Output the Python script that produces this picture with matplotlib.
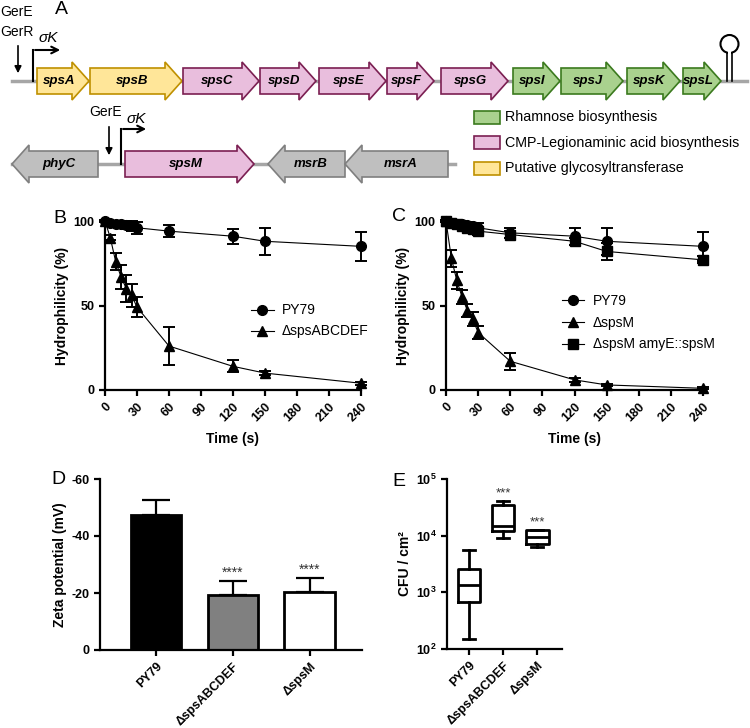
import matplotlib
matplotlib.use('Agg')
import matplotlib.pyplot as plt
from matplotlib.patches import Polygon, Rectangle, Circle
from matplotlib.lines import Line2D
import numpy as np

plt.rcParams['font.family'] = ['Liberation Sans', 'DejaVu Sans']
plt.rcParams['mathtext.fontset'] = 'custom'
plt.rcParams['mathtext.rm'] = 'Liberation Sans'
plt.rcParams['mathtext.bf'] = 'Liberation Sans:bold'
plt.rcParams['axes.unicode_minus'] = False

# ---- panel A : operon map (gene coordinates in map units) ----
op1_names = ['spsA', 'spsB', 'spsC', 'spsD', 'spsE', 'spsF', 'spsG', 'spsI', 'spsJ', 'spsK', 'spsL']
op1_tail = [37, 90, 183, 260, 319, 387, 441, 513, 561, 627, 683]
op1_tip = [89, 182, 259, 316, 386, 434, 508, 560, 623, 680, 721]
op1_group = ['gt', 'gt', 'cmp', 'cmp', 'cmp', 'cmp', 'cmp', 'rha', 'rha', 'rha', 'rha']

op2_names = ['phyC', 'spsM', 'msrB', 'msrA']
op2_tail = [98, 125, 345, 448]
op2_tip = [12, 254, 268, 345]
op2_group = ['other', 'cmp', 'other', 'other']

legend_groups = ['rha', 'cmp', 'gt']
legend_labels = ['Rhamnose biosynthesis', 'CMP-Legionaminic acid biosynthesis',
                 'Putative glycosyltransferase']

# ---- panels B, C : hydrophilicity ----
time_s = [0, 5, 10, 15, 20, 25, 30, 60, 120, 150, 240]
b_py79 = [100, 99, 98.5, 98, 97.5, 97, 96, 94, 91, 88, 85]
b_py79_err = [0.5, 1, 1.5, 2, 2.5, 3, 3.5, 3.5, 4.5, 8, 8.5]
b_abcdef = [100, 90, 76, 67, 60, 56, 49, 26, 14, 10, 4]
b_abcdef_err = [0, 1.5, 5, 7, 8, 7, 6, 11, 3.5, 1, 1]

c_py79 = [100, 99, 98.5, 98, 97.5, 97, 96, 93, 91, 88, 85]
c_py79_err = [0.5, 1, 1, 1.5, 2, 2, 3, 3, 5, 8, 8.5]
c_spsM = [100, 78, 65, 55, 47, 42, 34, 17, 6, 3, 1]
c_spsM_err = [0, 5, 5, 4, 4, 4, 4, 5, 1, 0.5, 0.5]
c_comp = [100, 99, 98, 97, 96, 95, 94, 92, 88, 82, 77]
c_comp_err = [0.5, 1, 1, 1.5, 2, 2, 2.5, 2, 2, 5, 2]

# ---- panel D : zeta potential ----
strains = ['PY79', '\u0394spsABCDEF', '\u0394spsM']
zeta_mean = [-47.4, -19.3, -20.5]
zeta_sd = [5.2, 4.9, 4.7]
zeta_sig = ['', '****', '****']

# ---- panel E : CFU / cm2 box plot ----
cfu_whislo = [151, 9100, 6300]
cfu_q1 = [667, 11900, 7230]
cfu_med = [1370, 14600, 9330]
cfu_q3 = [2620, 35200, 12800]
cfu_whishi = [5660, 41400, 12800]
cfu_sig = ['', '***', '***']

fills = {'gt': '#FFE699', 'cmp': '#E9BEDD', 'rha': '#A9D18E', 'other': '#BFBFBF'}
edges = {'gt': '#BF9000', 'cmp': '#7B1F52', 'rha': '#3B7A1E', 'other': '#7F7F7F'}

W, H = 750, 728
fig = plt.figure(figsize=(7.5, 7.28), dpi=100)


def fx(px):
    return px / W


def fy(py):
    return 1 - py / H


# ================= A =================
topH = 190
axA = fig.add_axes([0, fy(topH), 1, topH / H])
axA.set_xlim(0, W)
axA.set_ylim(topH, 0)
axA.axis('off')

BODY, HEAD, HLEN = 13, 19, 17


def gene(ax, tail, tip, yc, fc, ec):
    d = 1 if tip > tail else -1
    hb = tip - d * HLEN
    pts = [(tail, yc - BODY), (hb, yc - BODY), (hb, yc - HEAD), (tip, yc),
           (hb, yc + HEAD), (hb, yc + BODY), (tail, yc + BODY)]
    ax.add_patch(Polygon(pts, closed=True, fc=fc, ec=ec, lw=1.2, zorder=3))


def gene_rows(ax, names, tails, tips, groups, yc):
    for n, t0, t1, g in zip(names, tails, tips, groups):
        gene(ax, t0, t1, yc, fills[g], edges[g])
        d = 1 if t1 > t0 else -1
        xc = (t0 + t1) / 2 - d * 4
        ax.text(xc, yc, n, ha='center', va='center', fontsize=9.5,
                fontweight='bold', style='italic', zorder=4)


y1, y2 = 81, 164
axA.plot([12, 747], [y1, y1], color='#A6A6A6', lw=2.5, zorder=1)
gene_rows(axA, op1_names, op1_tail, op1_tip, op1_group, y1)
axA.plot([12, 455], [y2, y2], color='#A6A6A6', lw=2.5, zorder=1)
gene_rows(axA, op2_names, op2_tail, op2_tip, op2_group, y2)

# terminator
axA.plot([727, 727], [y1, 53], color='black', lw=1.2, zorder=2)
axA.plot([732, 732], [y1, 53], color='black', lw=1.2, zorder=2)
axA.add_patch(Circle((729.5, 44), 9, fc='white', ec='black', lw=1.5, zorder=3))
axA.add_patch(Rectangle((727.6, 50), 3.8, 8, fc='white', ec='none', zorder=4))

# promoters
arr = dict(arrowstyle='-|>', color='black', lw=1.2, mutation_scale=10)
axA.annotate('', xy=(18, 76), xytext=(18, 43), arrowprops=arr)
axA.plot([33, 33], [y1, 50], color='black', lw=1.5)
axA.annotate('', xy=(63, 50), xytext=(32.3, 50),
             arrowprops=dict(arrowstyle='->', color='black', lw=1.5, mutation_scale=12))
axA.text(17, 12, 'GerE', ha='center', va='center', fontsize=10)
axA.text(17, 32, 'GerR', ha='center', va='center', fontsize=10)
axA.text(48, 38, '\u03c3K', ha='center', va='center', fontsize=11, style='italic')

axA.annotate('', xy=(109, 158), xytext=(109, 124), arrowprops=arr)
axA.plot([121, 121], [y2, 129], color='black', lw=1.5)
axA.annotate('', xy=(149, 129), xytext=(120.3, 129),
             arrowprops=dict(arrowstyle='->', color='black', lw=1.5, mutation_scale=12))
axA.text(106, 112, 'GerE', ha='center', va='center', fontsize=10)
axA.text(136, 119, '\u03c3K', ha='center', va='center', fontsize=11, style='italic')

axA.text(61, 9, 'A', ha='center', va='center', fontsize=14)

for i, (g, lab) in enumerate(zip(legend_groups, legend_labels)):
    yc = 117 + i * 25.5
    axA.add_patch(Rectangle((474, yc - 6.5), 26, 13, fc=fills[g], ec=edges[g], lw=1.2))
    axA.text(505, yc, lab, ha='left', va='center', fontsize=10.3)


# ================= common styling =================
def style(ax):
    for s in ['top', 'right']:
        ax.spines[s].set_visible(False)
    for s in ['left', 'bottom']:
        ax.spines[s].set_linewidth(1.6)
    ax.tick_params(width=1.6, length=4, labelsize=9)
    for lab in ax.get_xticklabels() + ax.get_yticklabels():
        lab.set_fontweight('bold')


def hydro(ax, series):
    handles = []
    for y, e, m, lab in series:
        ms = 7 if m != 's' else 6.5
        ax.errorbar(time_s, y, yerr=e, fmt='-' + m, color='black', lw=0.8,
                    ms=ms, elinewidth=1.4, capsize=4.5,
                    capthick=1.4, clip_on=False)
        handles.append(Line2D([], [], color='black', lw=0.8, marker=m, ms=ms, label=lab))
    ax.set_xlim(0, 240)
    ax.set_ylim(0, 100)
    ax.set_xticks(np.arange(0, 241, 30))
    ax.set_yticks([0, 50, 100])
    ax.set_xticklabels([str(t) for t in range(0, 241, 30)], rotation=45,
                       ha='right', va='top', rotation_mode='anchor')
    ax.set_xlabel('Time (s)', fontsize=10, fontweight='bold', labelpad=6)
    ax.set_ylabel('Hydrophilicity (%)', fontsize=10, fontweight='bold', labelpad=3)
    style(ax)
    return handles


# ================= B =================
axB = fig.add_axes([fx(105), fy(390), fx(256), (390 - 221) / H])
hB = hydro(axB, [(b_py79, b_py79_err, 'o', 'PY79'),
                 (b_abcdef, b_abcdef_err, '^', '\u0394spsABCDEF')])
axB.legend(handles=hB, loc='upper left', bbox_to_anchor=(0.55, 0.545), frameon=False,
           fontsize=10, handlelength=1.6, handletextpad=0.6, labelspacing=0.5,
           borderaxespad=0)
fig.text(fx(60), fy(218), 'B', ha='center', va='center', fontsize=14)

# ================= C =================
axC = fig.add_axes([fx(446), fy(390), fx(257), (390 - 221) / H])
hC = hydro(axC, [(c_py79, c_py79_err, 'o', 'PY79'),
                 (c_spsM, c_spsM_err, '^', '\u0394spsM'),
                 (c_comp, c_comp_err, 's', '\u0394spsM amyE::spsM')])
axC.legend(handles=hC, loc='upper left', bbox_to_anchor=(0.43, 0.6), frameon=False,
           fontsize=10, handlelength=1.6, handletextpad=0.6, labelspacing=0.55,
           borderaxespad=0)
fig.text(fx(399), fy(216), 'C', ha='center', va='center', fontsize=14)

# ================= D =================
axD = fig.add_axes([fx(100), fy(650), fx(262), (650 - 479) / H])
xpos = np.arange(len(strains))
axD.bar(xpos, zeta_mean, width=0.66, color=['black', '#808080', 'white'],
        edgecolor='black', linewidth=2, zorder=2)
axD.errorbar(xpos, zeta_mean, yerr=[zeta_sd, [0] * 3], fmt='none', ecolor='black',
             elinewidth=1.6, capsize=10, capthick=1.6, zorder=1)
for x, m, s, t in zip(xpos, zeta_mean, zeta_sd, zeta_sig):
    if t:
        axD.text(x, m - s - 0.4, t, ha='center', va='bottom', fontsize=10, color='#333333')
axD.set_ylim(0, -60)
axD.set_yticks([0, -20, -40, -60])
axD.set_xlim(-0.73, 2.68)
axD.set_xticks(xpos)
axD.set_xticklabels(strains, rotation=45, ha='right', va='top', rotation_mode='anchor')
axD.set_ylabel('Zeta potential (mV)', fontsize=10, fontweight='bold', labelpad=3)
style(axD)
fig.text(fx(58), fy(480), 'D', ha='center', va='center', fontsize=14)

# ================= E =================
axE = fig.add_axes([fx(447), fy(649), fx(115), (649 - 479) / H])
stats = [dict(whislo=a, q1=b, med=c, q3=d, whishi=e)
         for a, b, c, d, e in zip(cfu_whislo, cfu_q1, cfu_med, cfu_q3, cfu_whishi)]
lw = 2
axE.bxp(stats, positions=xpos, widths=0.65, showfliers=False, capwidths=0.35,
        boxprops=dict(lw=lw), whiskerprops=dict(lw=lw), capprops=dict(lw=lw),
        medianprops=dict(color='black', lw=lw))
for x, hi, t in zip(xpos, cfu_whishi, cfu_sig):
    if t:
        axE.text(x, hi * 1.04, t, ha='center', va='bottom', fontsize=9.5, color='#333333')
axE.set_yscale('log')
axE.set_ylim(1e2, 1e5)
axE.set_yticks([1e2, 1e3, 1e4, 1e5])
axE.set_yticklabels([r'$\mathbf{10^{%d}}$' % k for k in range(2, 6)])
axE.minorticks_off()
axE.set_xlim(-0.65, 2.72)
axE.set_xticks(xpos)
axE.set_xticklabels(strains, rotation=45, ha='right', va='top', rotation_mode='anchor')
axE.set_ylabel('CFU / cm\u00b2', fontsize=10, fontweight='bold', labelpad=3)
style(axE)
fig.text(fx(399), fy(481), 'E', ha='center', va='center', fontsize=14)

fig.savefig('out.png', dpi=100)
